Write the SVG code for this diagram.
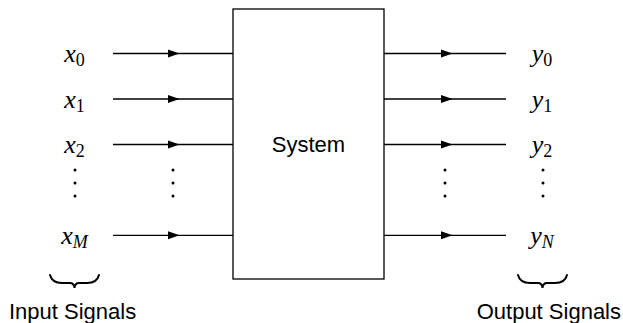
<svg xmlns="http://www.w3.org/2000/svg" width="623" height="323" viewBox="0 0 623 323">
<style>
.ln{stroke:#000;stroke-width:1.3;fill:none}
.math{font-family:"Liberation Serif",serif;font-style:italic;font-size:26px;fill:#000}
.sub{font-size:18px}
.subr{font-size:18px;font-style:normal}
.lbl{font-family:"Liberation Sans",Arial,sans-serif;font-size:22px;fill:#000}
.brace{stroke:#000;stroke-width:2;fill:none;stroke-linecap:round}
</style>
<defs>
<marker id="arr" markerWidth="12" markerHeight="9" refX="0" refY="4.5" orient="auto" markerUnits="userSpaceOnUse">
<path d="M0,0.5 L11.5,4.5 L0,8.5 z" fill="#000"/>
</marker>
</defs>
<rect width="623" height="323" fill="#fff"/>
<g id="system">
<rect x="233" y="9" width="151" height="270" fill="#fff" stroke="#000" stroke-width="1.3"/>
<text class="lbl" x="308.5" y="152" text-anchor="middle" font-size="22.5">System</text>
</g>
<g id="connectors">
<path class="ln" d="M113,53.5 H168" marker-end="url(#arr)"/><path class="ln" d="M168,53.5 H233"/>
<path class="ln" d="M113,99 H168" marker-end="url(#arr)"/><path class="ln" d="M168,99 H233"/>
<path class="ln" d="M113,144.5 H168" marker-end="url(#arr)"/><path class="ln" d="M168,144.5 H233"/>
<path class="ln" d="M113,235.3 H168" marker-end="url(#arr)"/><path class="ln" d="M168,235.3 H233"/>
<path class="ln" d="M384,53.5 H441" marker-end="url(#arr)"/><path class="ln" d="M441,53.5 H506"/>
<path class="ln" d="M384,99 H441" marker-end="url(#arr)"/><path class="ln" d="M441,99 H506"/>
<path class="ln" d="M384,144.5 H441" marker-end="url(#arr)"/><path class="ln" d="M441,144.5 H506"/>
<path class="ln" d="M384,235.3 H441" marker-end="url(#arr)"/><path class="ln" d="M441,235.3 H506"/>
</g>
<g id="inputs">
<text class="math" x="74.5" y="62" text-anchor="middle">x<tspan class="subr" dy="4">0</tspan></text>
<text class="math" x="74.5" y="107.5" text-anchor="middle">x<tspan class="subr" dy="4">1</tspan></text>
<text class="math" x="74.5" y="153" text-anchor="middle">x<tspan class="subr" dy="4">2</tspan></text>
<text class="math" x="74.5" y="244" text-anchor="middle">x<tspan class="sub" dy="4">M</tspan></text>
<circle cx="75" cy="170" r="1.5"/><circle cx="75" cy="183" r="1.5"/><circle cx="75" cy="196" r="1.5"/>
<circle cx="173" cy="170" r="1.5"/><circle cx="173" cy="183" r="1.5"/><circle cx="173" cy="196" r="1.5"/>
<path class="brace" d="M50,275 Q52,283 62,283 L70,283 Q74,283 74.5,288 Q75,283 79,283 L87,283 Q97,283 99,275"/>
<text class="lbl" x="9" y="319" font-size="23">Input Signals</text>
</g>
<g id="outputs">
<text class="math" x="542" y="62" text-anchor="middle">y<tspan class="subr" dy="4">0</tspan></text>
<text class="math" x="542" y="107.5" text-anchor="middle">y<tspan class="subr" dy="4">1</tspan></text>
<text class="math" x="542" y="153" text-anchor="middle">y<tspan class="subr" dy="4">2</tspan></text>
<text class="math" x="542" y="244" text-anchor="middle">y<tspan class="sub" dy="4">N</tspan></text>
<circle cx="445" cy="170" r="1.5"/><circle cx="445" cy="183" r="1.5"/><circle cx="445" cy="196" r="1.5"/>
<circle cx="543" cy="170" r="1.5"/><circle cx="543" cy="183" r="1.5"/><circle cx="543" cy="196" r="1.5"/>
<path class="brace" d="M518,275 Q520,283 530,283 L538,283 Q542,283 542.5,288 Q543,283 547,283 L555,283 Q565,283 567,275"/>
<text class="lbl" x="621" y="319" text-anchor="end" font-size="21.5">Output Signals</text>
</g>
</svg>
